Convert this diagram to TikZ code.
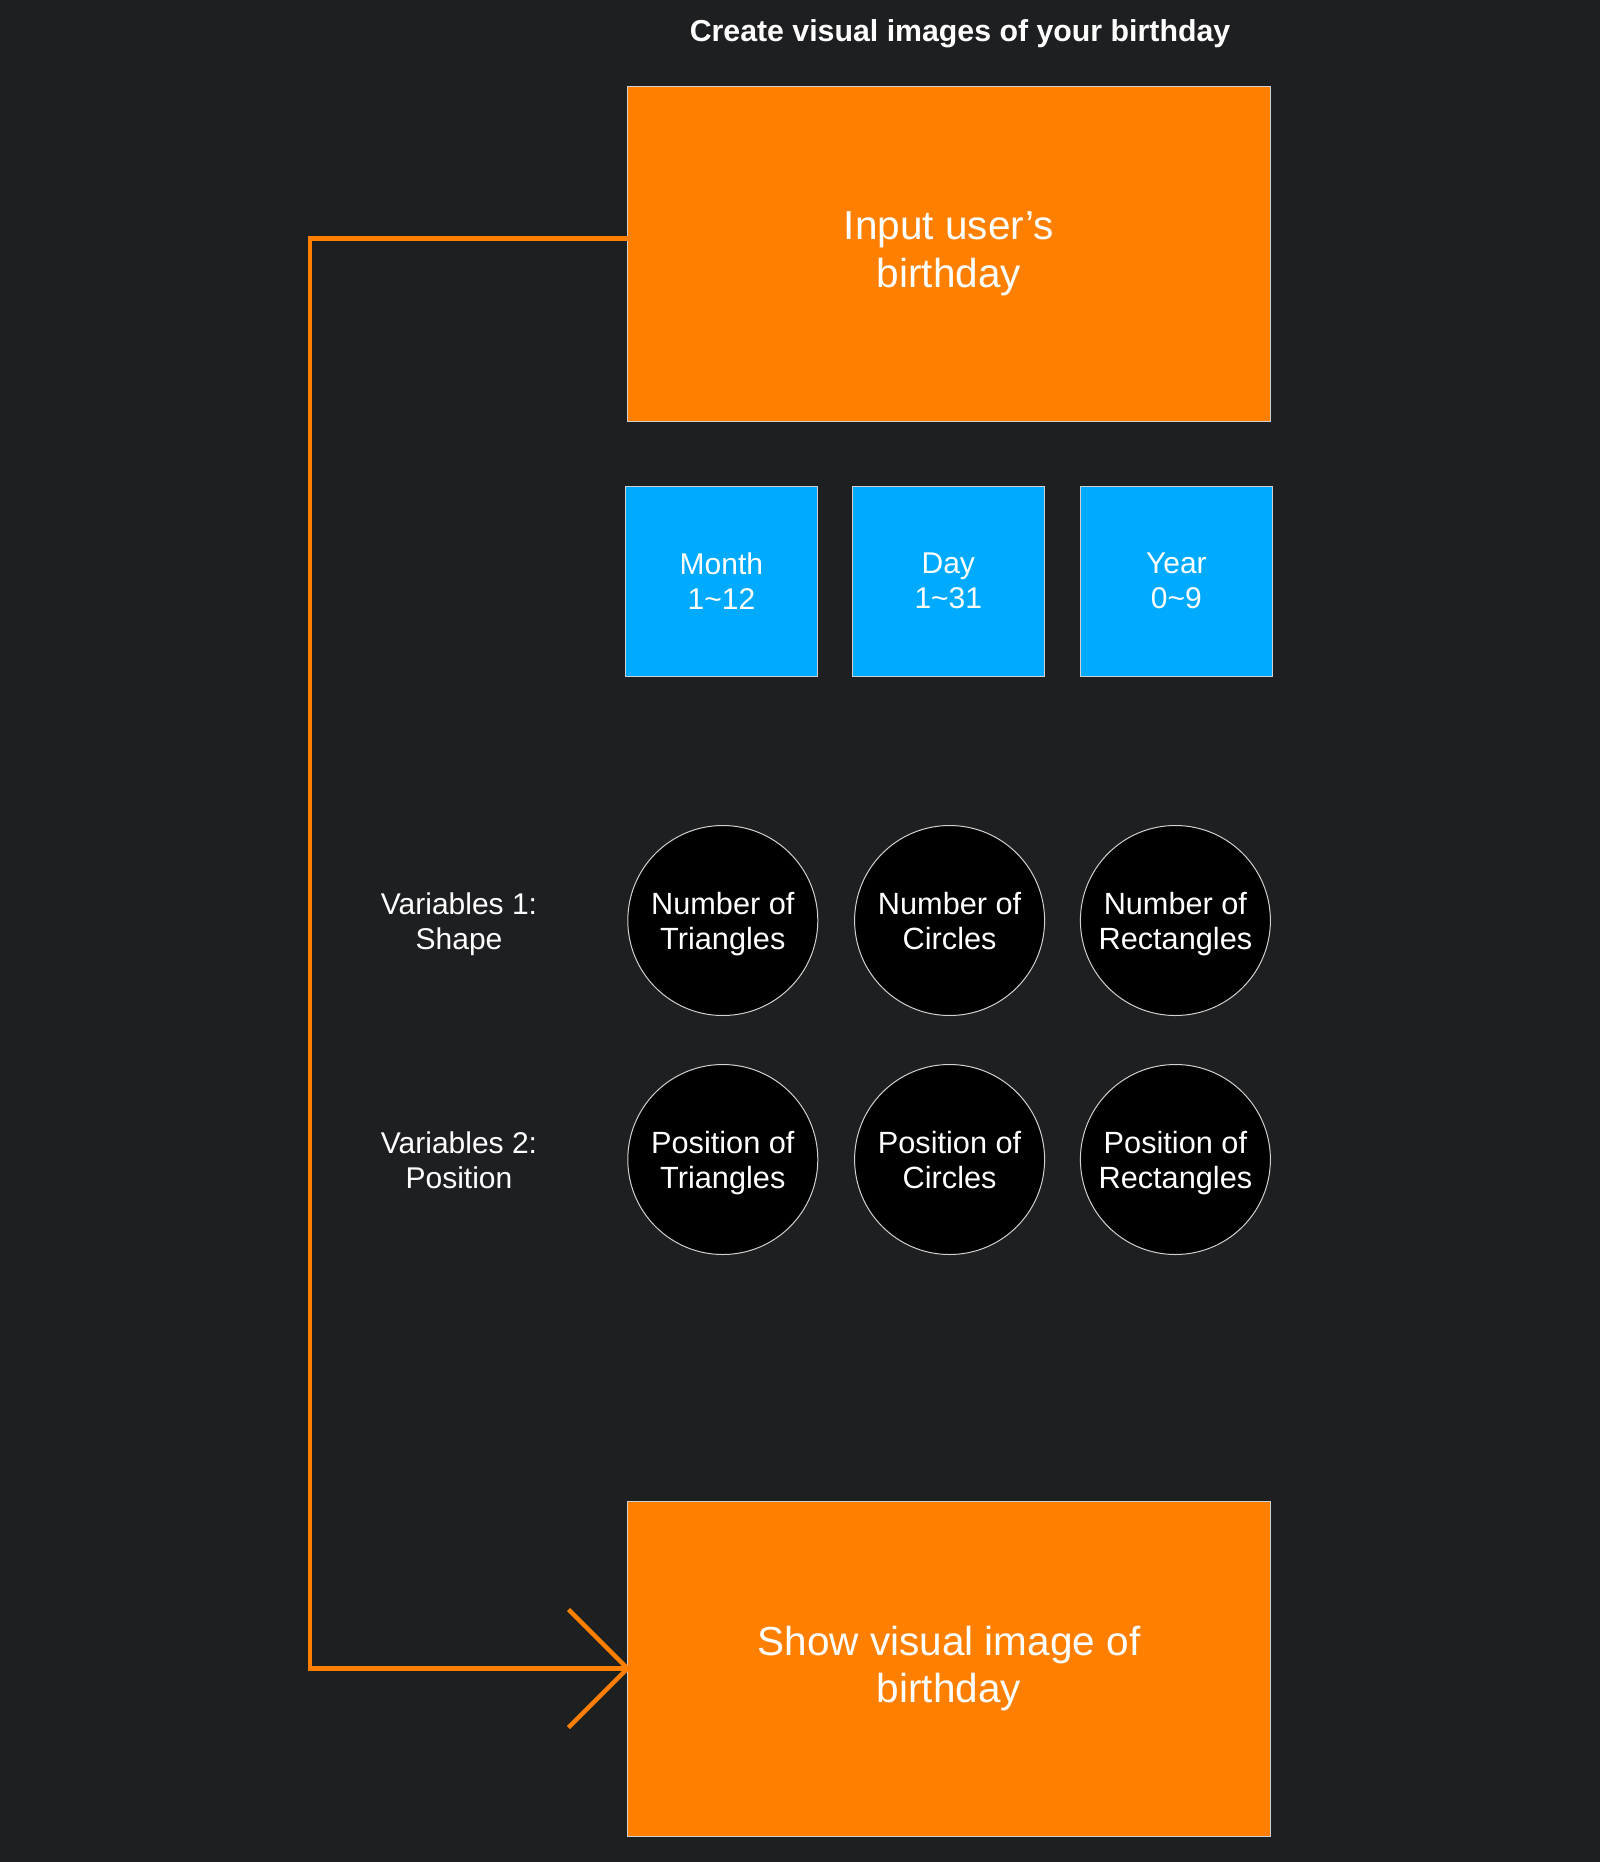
\documentclass[tikz,border=0pt]{standalone}
\usepackage{fontspec}
\setmainfont{Liberation Sans}
\definecolor{bgc}{HTML}{1E1F21}
\definecolor{orng}{HTML}{FF7F00}
\definecolor{skyb}{HTML}{00AAFF}
\definecolor{edgec}{HTML}{D0D0D0}
\newcommand\nodp[1]{\raisebox{0pt}[\height][0pt]{#1}}
\tikzset{
  bigbox/.style={draw=edgec, line width=1pt, fill=orng, minimum width=643pt, minimum height=335pt, inner sep=0pt, outer sep=0pt, align=center, text=white, font=\fontsize{40.5}{47.5}\selectfont},
  valbox/.style={draw=edgec, line width=1pt, fill=skyb, minimum width=192pt, minimum height=190pt, inner sep=0pt, outer sep=0pt, align=center, text=white, font=\fontsize{30}{35}\selectfont},
  varcirc/.style={circle, draw=edgec, line width=1pt, fill=black, minimum size=190pt, inner sep=0pt, outer sep=0pt, align=center, text=white, font=\fontsize{30.7}{35}\selectfont},
  varlabel/.style={align=center, text=white, inner sep=0pt, font=\fontsize{30}{35}\selectfont},
  titlestyle/.style={text=white, inner sep=0pt, font=\fontsize{30.3}{35}\selectfont\bfseries},
  conn/.style={draw=orng, line width=4.5pt}
}
\begin{document}
\begin{tikzpicture}[x=1pt,y=-1pt]
\fill[bgc] (0,0) rectangle (1600,1862);
\useasboundingbox (0,0) rectangle (1600,1862);

\node[titlestyle, anchor=base] (title) at (960,42) {Create visual images of your birthday};

\node[bigbox] (top) at (949,254) {Input user’s\\birthday};

\node[valbox] (month) at (721.4,581) {Month\\1\char"7E 12};
\node[valbox] (day) at (948.3,581) {Day\\1\char"7E 31};
\node[valbox] (year) at (1176.4,581) {Year\\0\char"7E 9};

\node[varlabel] (v1) at (459,921) {Variables 1:\\\nodp{Shape}};
\node[varcirc] (n1) at (722.8,920.5) {Number of\\\nodp{Triangles}};
\node[varcirc] (n2) at (949.6,920.5) {Number of\\\nodp{Circles}};
\node[varcirc] (n3) at (1175.4,920.5) {Number of\\\nodp{Rectangles}};

\node[varlabel] (v2) at (459,1160) {Variables 2:\\\nodp{Position}};
\node[varcirc] (p1) at (722.8,1159.5) {Position of\\\nodp{Triangles}};
\node[varcirc] (p2) at (949.6,1159.5) {Position of\\\nodp{Circles}};
\node[varcirc] (p3) at (1175.4,1159.5) {Position of\\\nodp{Rectangles}};

\node[bigbox] (bot) at (949,1668.5) {Show visual image of\\birthday};

\coordinate (rail) at (310,1668.5);
\draw[conn] ([yshift=15.5pt]top.west) -| (rail) |- (bot.west);
\draw[conn, line join=miter] ([xshift=-59pt,yshift=59pt]bot.west) -- (bot.west) -- ([xshift=-59pt,yshift=-59pt]bot.west);
\end{tikzpicture}
\end{document}
